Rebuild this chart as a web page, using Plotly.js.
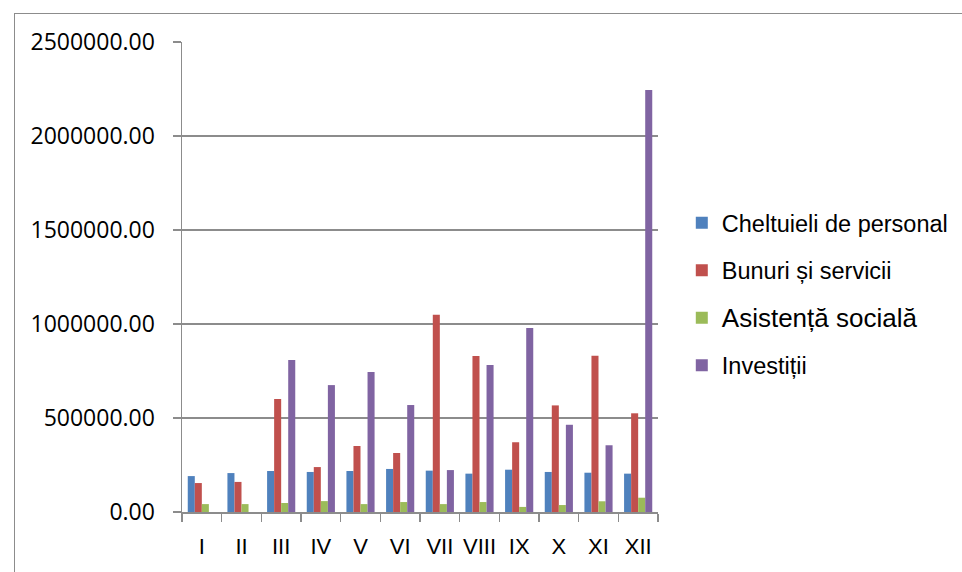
<!DOCTYPE html>
<html>
<head>
<meta charset="utf-8">
<script src="https://cdn.plot.ly/plotly-3.0.1.min.js"></script>
<style>
  html, body { margin: 0; padding: 0; background: #fff; }
  #wrap { position: relative; width: 962px; height: 572px; overflow: hidden; }
  #frame { position: absolute; left: 14px; top: 13px; width: 1000px; height: 600px; border: 1.5px solid #8c8c8c; box-sizing: border-box; }
  #chart { position: absolute; left: 0; top: 0; width: 962px; height: 572px; }
</style>
</head>
<body>
<div id="wrap">
  <div id="frame"></div>
  <div id="chart"></div>
</div>
<script>
const months = ["I","II","III","IV","V","VI","VII","VIII","IX","X","XI","XII"];
const seriesNames = ["Cheltuieli de personal", "Bunuri și servicii", "Asistență socială", "Investiții"];
const personal   = [191000, 207000, 218000, 213000, 218000, 229000, 220000, 204000, 225000, 213000, 209000, 204000];
const bunuri     = [154000, 160000, 601000, 239000, 351000, 314000, 1049000, 830000, 371000, 567000, 831000, 525000];
const asistenta  = [42000, 42000, 48000, 58000, 42000, 53000, 42000, 53000, 27000, 37000, 57000, 76000];
const investitii = [0, 0, 808000, 675000, 745000, 569000, 223000, 782000, 979000, 464000, 355000, 2245000];

const colors = ["#4F81BD", "#C0504D", "#9BBB59", "#8064A2"];
const values = [personal, bunuri, asistenta, investitii];
const labelSizes = [23.5, 23.5, 26, 23.5];

const traces = values.map((v, i) => ({
  type: "bar",
  x: months,
  y: v,
  name: '<span style="font-size:' + labelSizes[i] + 'px">' + seriesNames[i] + '</span>',
  legendgroup: "g" + i,
  marker: { color: colors[i], line: { width: 0 } },
  hoverinfo: "x+y"
}));

const layout = {
  width: 962,
  height: 572,
  margin: { l: 182, r: 304, t: 42, b: 60, autoexpand: false },
  paper_bgcolor: "rgba(0,0,0,0)",
  plot_bgcolor: "rgba(0,0,0,0)",
  barmode: "group",
  bargap: 0.29,
  bargroupgap: 0,
  font: { family: "Liberation Sans, Arial, sans-serif", color: "#000", size: 22 },
  xaxis: {
    type: "category",
    tickson: "boundaries",
    tickangle: 0,
    ticks: "outside",
    ticklen: 8,
    tickwidth: 1.5,
    tickcolor: "#8c8c8c",
    showline: true,
    linecolor: "#8c8c8c",
    linewidth: 1.5,
    showgrid: false,
    ticklabelstandoff: 14,
    automargin: false,
    tickfont: { family: "Liberation Sans, Arial, sans-serif", size: 22, color: "#000" }
  },
  yaxis: {
    range: [0, 2500000],
    dtick: 500000,
    tickformat: ".2f",
    ticks: "outside",
    ticklen: 8,
    tickwidth: 1.5,
    tickcolor: "#8c8c8c",
    showline: true,
    linecolor: "#8c8c8c",
    linewidth: 1.5,
    showgrid: true,
    gridcolor: "#8c8c8c",
    gridwidth: 1.5,
    zeroline: false,
    ticklabelstandoff: 13,
    automargin: false,
    tickfont: { family: "Open Sans, Noto Sans, sans-serif", size: 23, color: "#000" }
  },
  showlegend: true,
  legend: {
    x: 1.05,
    xanchor: "left",
    y: 0.463,
    yanchor: "middle",
    traceorder: "grouped",
    tracegroupgap: 14,
    font: { family: "Liberation Sans, Arial, sans-serif", size: 23.5, color: "#000" },
    bgcolor: "rgba(0,0,0,0)"
  }
};

Plotly.newPlot("chart", traces, layout, { displayModeBar: false, staticPlot: true });
</script>
</body>
</html>
